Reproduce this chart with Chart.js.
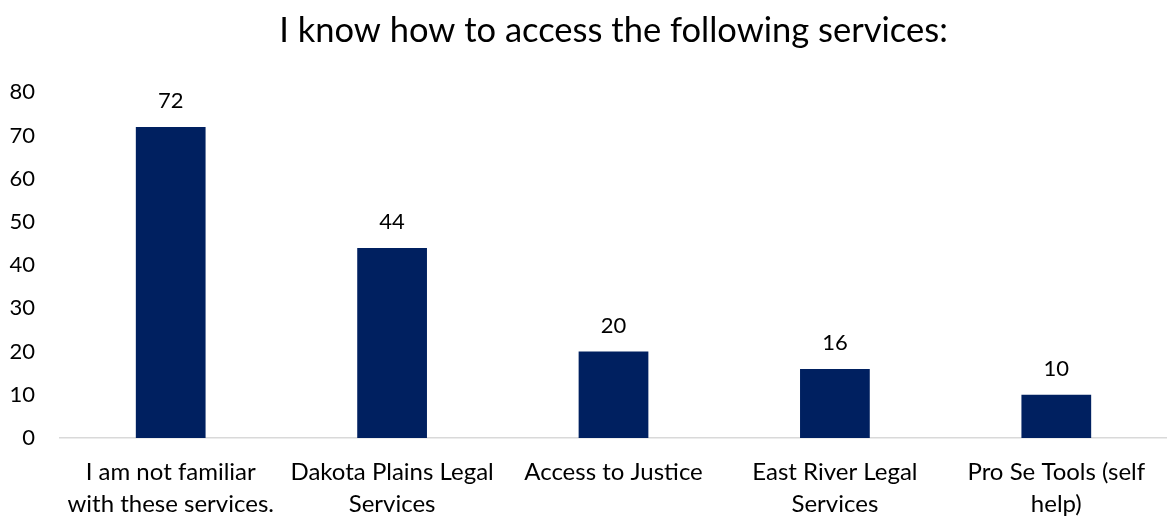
<!DOCTYPE html>
<html>
<head>
<meta charset="utf-8">
<script src="https://cdn.jsdelivr.net/npm/chart.js@4/dist/chart.umd.min.js"></script>
<style>
  html, body { margin: 0; padding: 0; background: #fff; }
  #wrap { width: 1167px; height: 518px; }
</style>
</head>
<body>
<div id="wrap"><canvas id="myChart"></canvas></div>
<script>
'use strict';

// chart data
const categories = [
   ['I am not familiar', 'with these services.'],
   ['Dakota Plains Legal', 'Services'],
   ['Access to Justice'],
   ['East River Legal', 'Services'],
   ['Pro Se Tools (self', 'help)']
];
const counts = [72, 44, 20, 16, 10];
const yTicks = [0, 10, 20, 30, 40, 50, 60, 70, 80];

const FONT = "Lato, 'Open Sans', sans-serif";

// draws the value above each bar
const valueLabels = {
   id: 'valueLabels',
   afterDatasetsDraw: function (chart) {
      const ctx = chart.ctx;
      const meta = chart.getDatasetMeta(0);
      ctx.save();
      ctx.font = '22px ' + FONT;
      ctx.fillStyle = '#000';
      ctx.textAlign = 'center';
      ctx.textBaseline = 'middle';
      meta.data.forEach(function (bar, i) {
         ctx.fillText(String(counts[i]), bar.x, bar.y - 26);
      });
      ctx.restore();
   }
};

const ctx = document.getElementById('myChart');
const myChart = new Chart(ctx, {
   type: 'bar',
   data: {
      labels: categories,
      datasets: [{
         data: counts,
         backgroundColor: '#002060',
         barPercentage: 0.63,
         categoryPercentage: 0.5
      }]
   },
   options: {
      responsive: true,
      maintainAspectRatio: false,
      animation: false,
      // plot area runs a little past the right edge, like the original
      layout: { padding: { left: 9, right: -8, top: 0, bottom: 0 } },
      plugins: {
         legend: { display: false },
         tooltip: { enabled: false },
         title: {
            display: true,
            fullSize: false,
            text: 'I know how to access the following services:',
            color: '#000',
            font: { family: FONT, size: 34.5, weight: 'normal' },
            padding: { top: 10, bottom: 41 }
         }
      },
      scales: {
         x: {
            grid: { display: false, drawTicks: false },
            border: { display: true, color: '#d9d9d9', width: 1.5 },
            ticks: {
               color: '#000',
               font: { family: FONT, size: 24, lineHeight: 1.33 },
               padding: 18,
               maxRotation: 0,
               autoSkip: false
            },
            afterFit: function (axis) {
               // keep the long labels from squeezing the plot
               axis.paddingLeft = 0;
               axis.paddingRight = -8;
               axis.height = 80;
            }
         },
         y: {
            min: 0,
            max: 80,
            afterBuildTicks: function (axis) {
               axis.ticks = yTicks.map(function (v) { return { value: v }; });
            },
            afterFit: function (axis) {
               axis.width = 51;
            },
            grid: { display: false, drawTicks: false },
            border: { display: false },
            ticks: {
               color: '#000',
               font: { family: FONT, size: 22 },
               padding: 25
            }
         }
      }
   },
   plugins: [valueLabels]
});
</script>
</body>
</html>
